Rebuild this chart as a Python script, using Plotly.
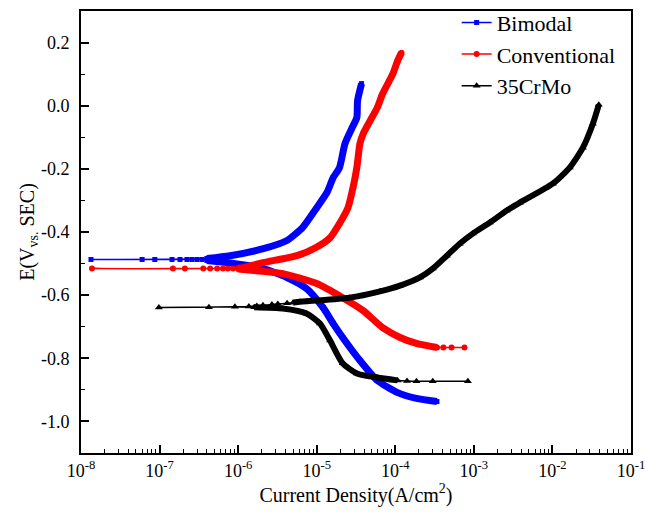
import plotly.graph_objects as go

# ---------------- data ----------------
# Bimodal
bi_cath_i = [3.39e-4, 1.86e-4, 1.05e-4, 5.89e-5, 3.55e-5, 2.14e-5, 1.62e-5, 1.20e-5, 7.4e-6, 4.17e-6, 1.91e-6, 7.2e-7, 4.0e-7]
bi_cath_E = [-0.937, -0.927, -0.908, -0.870, -0.807, -0.734, -0.690, -0.639, -0.579, -0.544, -0.513, -0.497, -0.490]
bi_flat_i = [3.46e-7, 2.99e-7, 2.58e-7, 2.23e-7, 1.82e-7, 1.44e-7, 8.7e-8, 6.0e-8, 1.34e-8]
bi_flat_E = [-0.487, -0.487, -0.487, -0.487, -0.487, -0.487, -0.487, -0.487, -0.487]
bi_anod_i = [4.0e-7, 7.9e-7, 2.09e-6, 4.17e-6, 6.6e-6, 1.0e-5, 1.35e-5, 1.62e-5, 1.95e-5, 2.29e-5, 2.82e-5, 3.24e-5, 3.31e-5, 3.72e-5]
bi_anod_E = [-0.484, -0.475, -0.453, -0.427, -0.386, -0.323, -0.275, -0.228, -0.196, -0.120, -0.070, -0.038, 0.016, 0.070]

# Conventional
cv_cath_i = [7.6e-4, 5.2e-4, 4.1e-4, 3.4e-4, 1.86e-4, 1.15e-4, 6.9e-5, 3.9e-5, 2.14e-5, 1.0e-5, 3.7e-6, 1.6e-6, 1.0e-6]
cv_cath_E = [-0.766, -0.766, -0.766, -0.766, -0.753, -0.734, -0.703, -0.649, -0.608, -0.563, -0.532, -0.522, -0.517]
cv_flat_i = [8.6e-7, 7.4e-7, 6.4e-7, 5.4e-7, 4.4e-7, 3.6e-7, 2.1e-7, 1.48e-7, 1.38e-8]
cv_flat_E = [-0.516, -0.516, -0.516, -0.516, -0.516, -0.516, -0.516, -0.516, -0.516]
cv_anod_i = [1.0e-6, 1.15e-6, 2.09e-6, 5.6e-6, 9.8e-6, 1.48e-5, 1.95e-5, 2.5e-5, 2.9e-5, 3.24e-5, 3.55e-5, 3.9e-5, 4.8e-5, 5.9e-5, 6.9e-5, 9.3e-5, 1.07e-4, 1.2e-4]
cv_anod_E = [-0.515, -0.513, -0.497, -0.475, -0.449, -0.418, -0.373, -0.323, -0.259, -0.196, -0.120, -0.089, -0.047, -0.006, 0.038, 0.101, 0.142, 0.168]

# 35CrMo
cr_cath_i = [8.4e-4, 3.0e-4, 1.86e-4, 1.41e-4, 1.07e-4, 5.9e-5, 3.24e-5, 2.14e-5, 1.48e-5, 1.10e-5, 7.4e-6, 3.7e-6, 1.6e-6]
cr_cath_E = [-0.873, -0.873, -0.873, -0.872, -0.870, -0.861, -0.848, -0.816, -0.744, -0.690, -0.658, -0.642, -0.638]
cr_flat_i = [4.25e-7, 9.8e-8]
cr_flat_E = [-0.638, -0.639]
cr_anod_i = [9.1e-7, 1.37e-6, 1.73e-6, 2.07e-6, 2.69e-6, 3.2e-6, 4.2e-6, 5.0e-6, 6.1e-6, 7.5e-6, 1.0e-5, 2.6e-5, 6.4e-5,
             1.15e-4, 2.06e-4, 3.0e-4, 4.53e-4, 6.6e-4, 9.7e-4, 1.6e-3, 2.63e-3, 3.85e-3, 1.01e-2, 1.66e-2, 2.44e-2, 3.27e-2, 3.89e-2]
cr_anod_E = [-0.637, -0.636, -0.634, -0.632, -0.630, -0.628, -0.626, -0.624, -0.621, -0.619, -0.617, -0.608, -0.588,
             -0.570, -0.544, -0.516, -0.475, -0.437, -0.405, -0.370, -0.332, -0.307, -0.247, -0.196, -0.133, -0.057, 0.003]

x_tickvals = [1e-8, 1e-7, 1e-6, 1e-5, 1e-4, 1e-3, 1e-2, 1e-1]
x_ticktext = ["10<sup>-8</sup>", "10<sup>-7</sup>", "10<sup>-6</sup>", "10<sup>-5</sup>",
              "10<sup>-4</sup>", "10<sup>-3</sup>", "10<sup>-2</sup>", "10<sup>-1</sup>"]
y_tickvals = [-1.0, -0.8, -0.6, -0.4, -0.2, 0.0, 0.2]
y_ticktext = ["-1.0", "-0.8", "-0.6", "-0.4", "-0.2", "0.0", "0.2"]

FONT = "Liberation Serif, Times New Roman, serif"

series = [
    dict(name="Bimodal", color="#0000FF", symbol="square", msize=5, width=7,
         cath=(bi_cath_i, bi_cath_E), flat=(bi_flat_i, bi_flat_E), anod=(bi_anod_i, bi_anod_E),
         cath_rng=(3e-7, 1.0), anod_rng=(3e-7, 1.0)),
    dict(name="Conventional", color="#FF0000", symbol="circle", msize=6, width=7,
         cath=(cv_cath_i, cv_cath_E), flat=(cv_flat_i, cv_flat_E), anod=(cv_anod_i, cv_anod_E),
         cath_rng=(9e-7, 3.5e-4), anod_rng=(9e-7, 1.0)),
    dict(name="35CrMo", color="#000000", symbol="triangle-up", msize=7, width=6,
         cath=(cr_cath_i, cr_cath_E), flat=(cr_flat_i, cr_flat_E), anod=(cr_anod_i, cr_anod_E),
         cath_rng=(1.5e-6, 1.1e-4), anod_rng=(4.9e-6, 1.0)),
]

fig = go.Figure()


def band(i_list, e_list, rng):
    xs, ys = [], []
    for i, e in zip(i_list, e_list):
        if rng[0] <= i <= rng[1]:
            xs.append(i)
            ys.append(e)
    return xs, ys


for s in series:
    cx, cy = band(*s["cath"], s["cath_rng"])
    ax, ay = band(*s["anod"], s["anod_rng"])
    fig.add_trace(go.Scatter(x=cx + [None] + ax, y=cy + [None] + ay, mode="lines",
                             line=dict(color=s["color"], width=s["width"], shape="spline", smoothing=0.6),
                             showlegend=False, hoverinfo="skip"))
    full_x = s["cath"][0] + s["flat"][0] + s["anod"][0]
    full_y = s["cath"][1] + s["flat"][1] + s["anod"][1]
    fig.add_trace(go.Scatter(x=full_x, y=full_y, mode="lines+markers", name=s["name"],
                             line=dict(color=s["color"], width=1.5, shape="spline", smoothing=0.6),
                             marker=dict(color=s["color"], symbol=s["symbol"], size=s["msize"])))

fig.update_layout(
    width=646, height=515,
    margin=dict(l=81, r=15, t=11, b=62, autoexpand=False),
    paper_bgcolor="white", plot_bgcolor="white",
    font=dict(family=FONT, size=18, color="black"),
    legend=dict(x=0.683, y=1.021, xanchor="left", yanchor="top",
                font=dict(family=FONT, size=22), bgcolor="rgba(0,0,0,0)",
                tracegroupgap=0),
)

minor_x = [k * 10.0 ** e for e in range(-8, -1) for k in range(2, 10)]

fig.update_xaxes(
    type="log", range=[-8, -1],
    tickmode="array", tickvals=x_tickvals, ticktext=x_ticktext,
    ticks="inside", ticklen=8, tickwidth=1.5, tickcolor="black",
    minor=dict(tickmode="array", tickvals=minor_x, ticks="inside", ticklen=4, tickwidth=1.2, tickcolor="black", showgrid=False),
    showline=True, linecolor="black", linewidth=2, mirror=True,
    showgrid=False, zeroline=False,
    tickfont=dict(family=FONT, size=18),
    ticklabelstandoff=0,
    title=dict(text="Current Density(A/cm<sup>2</sup>)", font=dict(family=FONT, size=20), standoff=8),
)
fig.update_yaxes(
    range=[-1.1, 0.3],
    tickmode="array", tickvals=y_tickvals, ticktext=y_ticktext,
    ticks="inside", ticklen=8, tickwidth=1.5, tickcolor="black",
    minor=dict(dtick=0.1, tick0=0.0, ticks="inside", ticklen=4, tickwidth=1.2, tickcolor="black", showgrid=False),
    showline=True, linecolor="black", linewidth=2, mirror=True,
    showgrid=False, zeroline=False,
    tickfont=dict(family=FONT, size=18),
    ticklabelstandoff=6,
    title=dict(text="E(V<sub>vs.</sub> SEC)", font=dict(family=FONT, size=20), standoff=0),
)

fig.write_html("out.html")
